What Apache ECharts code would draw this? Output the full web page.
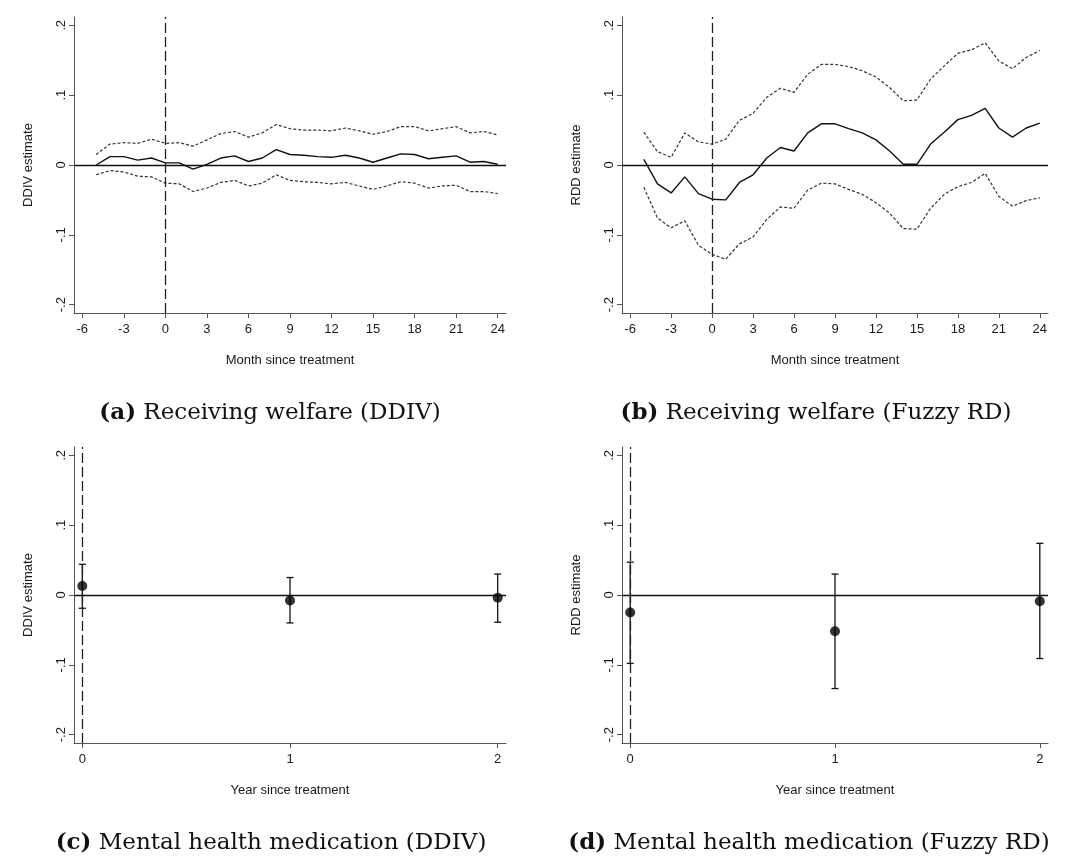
<!DOCTYPE html>
<html>
<head>
<meta charset="utf-8">
<script src="https://cdn.jsdelivr.net/npm/echarts@6/dist/echarts.min.js"></script>
<style>
html,body{margin:0;padding:0;background:#fff;}
#chart{width:1068px;height:862px;}
</style>
</head>
<body>
<div id="chart"></div>
<script>
// ---------- DATA ----------
const months = [-5,-4,-3,-2,-1,0,1,2,3,4,5,6,7,8,9,10,11,12,13,14,15,16,17,18,19,20,21,22,23,24];

// Panel (a) DDIV, receiving welfare
const ddivEst = [0.000,0.012,0.012,0.007,0.010,0.003,0.003,-0.006,0.001,0.010,0.013,0.005,0.010,0.022,0.015,0.014,0.012,0.011,0.014,0.010,0.004,0.010,0.016,0.015,0.009,0.011,0.013,0.004,0.005,0.001];
const ddivHi  = [0.015,0.030,0.032,0.031,0.037,0.031,0.032,0.027,0.036,0.045,0.048,0.040,0.046,0.058,0.052,0.050,0.050,0.049,0.053,0.049,0.044,0.048,0.055,0.055,0.049,0.052,0.055,0.046,0.048,0.043];
const ddivLo  = [-0.014,-0.008,-0.010,-0.016,-0.017,-0.026,-0.027,-0.038,-0.033,-0.025,-0.022,-0.030,-0.026,-0.014,-0.022,-0.024,-0.025,-0.027,-0.025,-0.030,-0.035,-0.030,-0.024,-0.026,-0.033,-0.030,-0.029,-0.038,-0.038,-0.041];

// Panel (b) Fuzzy RD, receiving welfare
const rddEst = [0.008,-0.027,-0.040,-0.017,-0.041,-0.049,-0.050,-0.025,-0.014,0.010,0.025,0.020,0.046,0.059,0.059,0.052,0.046,0.036,0.020,0.001,0.001,0.030,0.047,0.065,0.071,0.081,0.053,0.040,0.053,0.060];
const rddHi  = [0.047,0.019,0.011,0.046,0.033,0.030,0.037,0.064,0.074,0.097,0.110,0.104,0.130,0.144,0.144,0.141,0.135,0.126,0.111,0.092,0.093,0.123,0.142,0.160,0.165,0.175,0.149,0.138,0.154,0.164];
const rddLo  = [-0.032,-0.076,-0.090,-0.080,-0.115,-0.128,-0.135,-0.113,-0.103,-0.078,-0.060,-0.062,-0.036,-0.026,-0.027,-0.035,-0.042,-0.054,-0.069,-0.091,-0.092,-0.062,-0.042,-0.031,-0.025,-0.012,-0.045,-0.059,-0.051,-0.047];

// Panels (c),(d) mental health medication, by year
const years = [0, 1, 2];
const medDdivEst = [0.013, -0.008, -0.004];
const medDdivHi  = [0.044, 0.025, 0.030];
const medDdivLo  = [-0.019, -0.040, -0.039];
const medRddEst = [-0.025, -0.052, -0.009];
const medRddHi  = [0.047, 0.030, 0.074];
const medRddLo  = [-0.098, -0.134, -0.091];

// Tick labels
const yTicks = [-0.2, -0.1, 0, 0.1, 0.2];
const monthTicks = [-6,-3,0,3,6,9,12,15,18,21,24];
const yearTicks = [0, 1, 2];

const captions = [
  ['(a)', 'Receiving welfare (DDIV)'],
  ['(b)', 'Receiving welfare (Fuzzy RD)'],
  ['(c)', 'Mental health medication (DDIV)'],
  ['(d)', 'Mental health medication (Fuzzy RD)']
];
const yNames = ['DDIV estimate', 'RDD estimate', 'DDIV estimate', 'RDD estimate'];
const xNames = ['Month since treatment', 'Month since treatment', 'Year since treatment', 'Year since treatment'];

// ---------- CHART ----------
const FONT = 'Liberation Sans, Arial, sans-serif';
const AXC = '#555';
const TXT = '#1a1a1a';
const pair = (xs, ys) => xs.map((x, i) => [x, ys[i]]);
const fmtY = v => String(Math.round(v * 10) / 10).replace('0.', '.');

const grids = [
  {left: 74, top: 17, width: 432, height: 296},
  {left: 622, top: 17, width: 426, height: 296},
  {left: 74, top: 447, width: 432, height: 296},
  {left: 622, top: 447, width: 426, height: 296}
];

function xAxisFor(i) {
  const isMonth = i < 2;
  const ticks = isMonth ? monthTicks : yearTicks;
  return {
    type: 'value', gridIndex: i,
    min: isMonth ? -6.6 : -0.04, max: isMonth ? 24.6 : 2.04,
    name: xNames[i], nameLocation: 'middle', nameGap: 41,
    nameTextStyle: {fontFamily: FONT, fontSize: 13, color: TXT},
    axisLine: {show: true, onZero: false, lineStyle: {color: AXC, width: 1}},
    axisTick: {show: true, length: 5, customValues: ticks, lineStyle: {color: AXC}},
    axisLabel: {customValues: ticks, fontFamily: FONT, fontSize: 13, color: TXT, margin: 10},
    splitLine: {show: false}
  };
}
function yAxisFor(i) {
  return {
    type: 'value', gridIndex: i, min: -0.212, max: 0.212,
    name: yNames[i], nameLocation: 'middle', nameGap: 39,
    nameTextStyle: {fontFamily: FONT, fontSize: 13, color: TXT},
    axisLine: {show: true, onZero: false, lineStyle: {color: AXC, width: 1}},
    axisTick: {show: true, length: 5, customValues: yTicks, lineStyle: {color: AXC}},
    axisLabel: {customValues: yTicks, rotate: 90, formatter: fmtY, fontFamily: FONT, fontSize: 13, color: TXT, margin: 6},
    splitLine: {show: false}
  };
}

const refLines = {
  silent: true, symbol: 'none', label: {show: false},
  data: [
    {yAxis: 0, lineStyle: {color: '#111', width: 1.3, type: 'solid'}},
    {xAxis: 0, lineStyle: {color: '#222', width: 1.3, type: [10, 4]}}
  ]
};

function lineSeries(i, data, dotted, withRef) {
  const s = {
    type: 'line', xAxisIndex: i, yAxisIndex: i, data: data,
    symbol: 'none', animation: false,
    lineStyle: dotted ? {color: '#333', width: 1.2, type: [3, 2]} : {color: '#111', width: 1.4}
  };
  if (withRef) s.markLine = refLines;
  return s;
}

function errSeries(i, lo, hi) {
  return {
    type: 'custom', xAxisIndex: i, yAxisIndex: i, animation: false,
    data: years.map((y, k) => [y, lo[k], hi[k]]),
    renderItem: (params, api) => {
      const p1 = api.coord([api.value(0), api.value(1)]);
      const p2 = api.coord([api.value(0), api.value(2)]);
      const w = 3.5;
      const st = {stroke: '#111', lineWidth: 1.3};
      return {type: 'group', children: [
        {type: 'line', shape: {x1: p1[0], y1: p1[1], x2: p2[0], y2: p2[1]}, style: st},
        {type: 'line', shape: {x1: p1[0]-w, y1: p1[1], x2: p1[0]+w, y2: p1[1]}, style: st},
        {type: 'line', shape: {x1: p2[0]-w, y1: p2[1], x2: p2[0]+w, y2: p2[1]}, style: st}
      ]};
    }
  };
}
function dotSeries(i, est) {
  return {
    type: 'scatter', xAxisIndex: i, yAxisIndex: i, animation: false,
    data: pair(years, est), symbol: 'circle', symbolSize: 10,
    itemStyle: {color: '#000'}, z: 5
  };
}
function refSeries(i) {
  return {type: 'line', xAxisIndex: i, yAxisIndex: i, data: [], markLine: refLines};
}

const series = [
  lineSeries(0, pair(months, ddivEst), false, true),
  lineSeries(0, pair(months, ddivHi), true),
  lineSeries(0, pair(months, ddivLo), true),
  lineSeries(1, pair(months, rddEst), false, true),
  lineSeries(1, pair(months, rddHi), true),
  lineSeries(1, pair(months, rddLo), true),
  refSeries(2), errSeries(2, medDdivLo, medDdivHi), dotSeries(2, medDdivEst),
  refSeries(3), errSeries(3, medRddLo, medRddHi), dotSeries(3, medRddEst)
];

const capPos = [[270, 413], [816, 413], [271, 843], [809, 843]];
const graphic = captions.map((c, i) => ({
  type: 'text', x: capPos[i][0], y: capPos[i][1],
  style: {
    text: '{b|' + c[0] + '} ' + c[1],
    font: '23px "DejaVu Serif", serif',
    fill: '#111', align: 'center', verticalAlign: 'middle',
    rich: {b: {font: 'bold 23px "DejaVu Serif", serif', fill: '#111'}}
  }
}));

const chart = echarts.init(document.getElementById('chart'), null, {renderer: 'canvas'});
chart.setOption({
  animation: false,
  backgroundColor: '#fff',
  grid: grids,
  xAxis: [0,1,2,3].map(xAxisFor),
  yAxis: [0,1,2,3].map(yAxisFor),
  series: series,
  graphic: graphic
});
</script>
</body>
</html>
